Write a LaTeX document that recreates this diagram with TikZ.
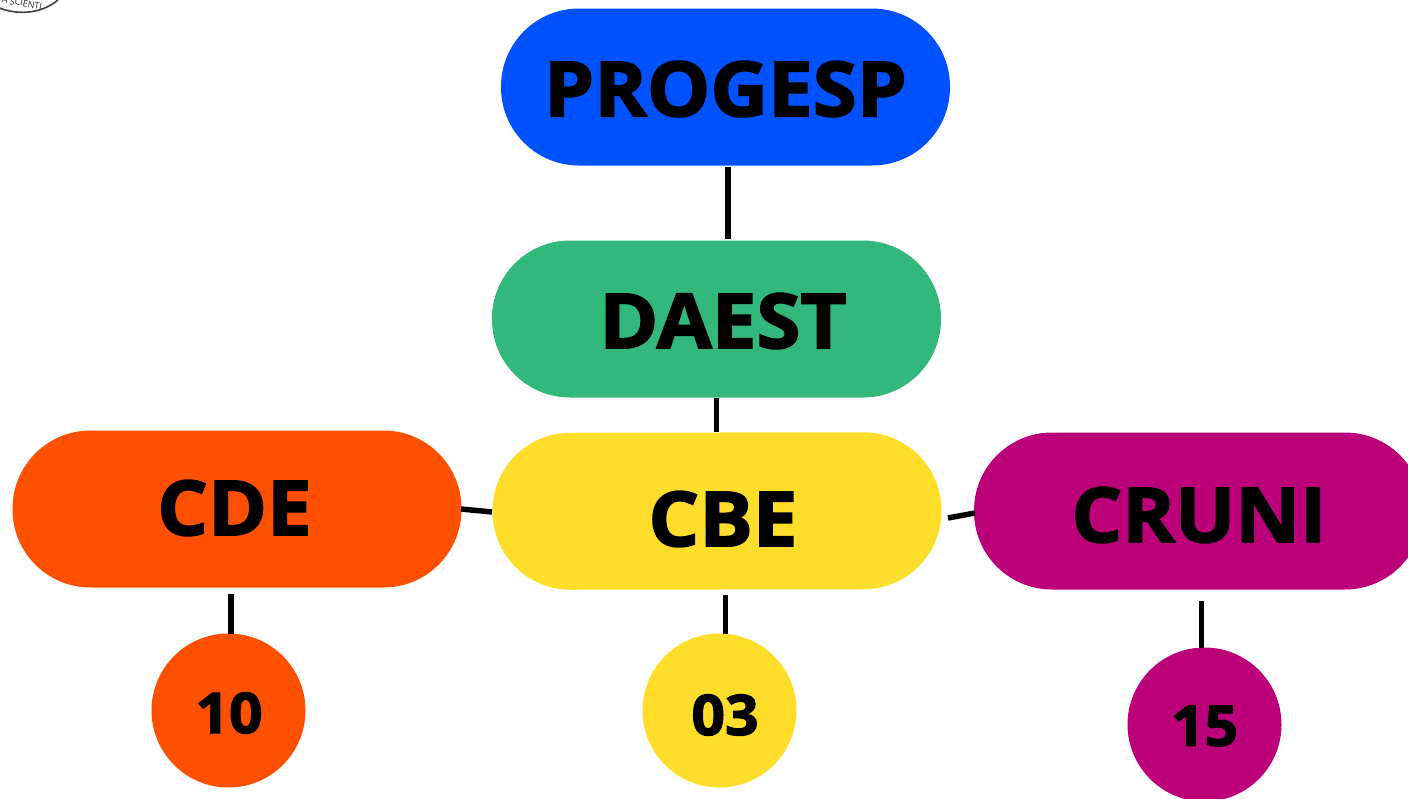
\documentclass[tikz,border=0pt]{standalone}
\usepackage{fontspec}
\setmainfont{Open Sans}
\newfontfamily\xb{Open Sans}[BoldFont={* Bold},BoldFeatures={FakeBold=2.2,FakeStretch=1.05}]
\definecolor{cb}{HTML}{0051FF}
\definecolor{cg}{HTML}{33B87B}
\definecolor{co}{HTML}{FF5000}
\definecolor{cy}{HTML}{FFDE2B}
\definecolor{cm}{HTML}{BC007A}
\begin{document}
\begin{tikzpicture}[x=1pt,y=-1pt,
 pill/.style={rounded corners=78pt,minimum width=449pt,minimum height=157pt,inner sep=0pt},
 disc/.style={circle,minimum size=154pt,inner sep=0pt},
 big/.style={font=\xb\bfseries\fontsize{76}{76}\selectfont},
 small/.style={font=\xb\bfseries\fontsize{56}{56}\selectfont},
 link/.style={line width=5.5pt,black}]
\useasboundingbox (0,0) rectangle (1408,798);
\begin{scope}
\clip (0,0) rectangle (1408,798);
\node[pill,fill=cb] (prog) at (725.5,87) {};
\node[pill,fill=cg] (daest) at (716.5,319) {};
\node[pill,fill=co] (cde) at (237,509) {};
\node[pill,fill=cy,rotate=0.1] (cbe) at (717,511) {};
\node[pill,fill=cm] (cruni) at (1198.5,511) {};
\node[disc,fill=co] (d1) at (228.5,710.5) {};
\node[disc,fill=cy] (d2) at (719.5,710.5) {};
\node[disc,fill=cm] (d3) at (1204.5,724.5) {};
\draw[line width=1.6pt,black!75] (-3,7) .. controls (15,15) and (40,15) .. (58,0);
\end{scope}
\node[font=\fontsize{9}{9}\selectfont,rotate=-10,black!85] (logo) at (22,3) {A SCIENTI};
\node[big] (t1) at (725.5,89) {PROGESP};
\node[big] (t2) at (723,321) {DAEST};
\node[big] (t3) at (234.5,508) {CDE};
\node[big] (t4) at (723,519) {CBE};
\node[big] (t5) at (1199,515) {CRUNI};
\node[small] (t6) at (229,713) {10};
\node[small] (t7) at (725,715) {03};
\node[small] (t8) at (1204.5,726) {15};
\coordinate (a1) at (728,167);\coordinate (a2) at (728,239);
\draw[link] (a1)--(a2);
\coordinate (b1) at (716.5,398);\coordinate (b2) at (716.5,432);
\draw[link] (b1)--(b2);
\coordinate (c1) at (461,509);\coordinate (c2) at (492,512);
\draw[link] (c1)--(c2);
\coordinate (e1) at (948,518);\coordinate (e2) at (975,513);
\draw[link] (e1)--(e2);
\coordinate (f1) at (231,594);\coordinate (f2) at (231,634);
\draw[link] (f1)--(f2);
\coordinate (g1) at (725.5,595);\coordinate (g2) at (725.5,634);
\draw[link] (g1)--(g2);
\coordinate (h1) at (1201.5,601);\coordinate (h2) at (1201.5,648);
\draw[link] (h1)--(h2);
\end{tikzpicture}
\end{document}
